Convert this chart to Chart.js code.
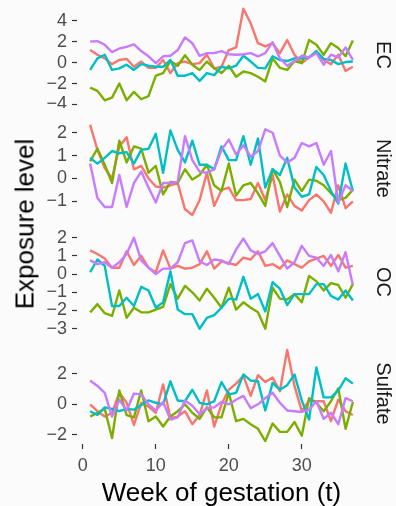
<!DOCTYPE html>
<html>
<head>
<meta charset="utf-8">
<script src="https://cdn.jsdelivr.net/npm/chart.js@4"></script>
<style>
  html, body { margin: 0; padding: 0; background: #fbfbfb; }
  #wrap { position: relative; width: 396px; height: 506px; overflow: hidden; font-family: "Liberation Sans", Arial, sans-serif; }
  #wrap canvas { position: absolute; left: 0; }
  #ytitle { position: absolute; left: 25px; top: 224px; transform: translate(-50%, -50%) rotate(-90deg); font-size: 26px; color: #000; white-space: nowrap; }
</style>
</head>
<body>
<div id="wrap">
  <canvas id="p1" width="396" height="106" style="top:2px"></canvas>
  <canvas id="p2" width="396" height="105" style="top:116px"></canvas>
  <canvas id="p3" width="396" height="106" style="top:229px"></canvas>
  <canvas id="p4" width="396" height="166" style="top:340px"></canvas>
  <div id="ytitle">Exposure level</div>
</div>
<script>
// weeks of gestation
const weeks = [1,2,3,4,5,6,7,8,9,10,11,12,13,14,15,16,17,18,19,20,21,22,23,24,25,26,27,28,29,30,31,32,33,34,35,36,37];

const colors = ['#F8766D', '#7CAE00', '#00BFC4', '#C77CFF'];

// EC
const ecRed = [1.2,0.75,0.4,-0.15,0.25,0.35,-0.4,0.1,-0.5,-0.5,0.25,-1.0,-0.05,0.1,-0.15,-0.05,0.75,-0.55,-0.4,1.2,1.45,5.15,3.75,1.85,1.55,1.85,0.9,2.15,0.75,-0.05,0.5,1.05,0.25,-0.15,0.75,-0.8,-0.4];
const ecGreen = [-2.4,-2.7,-3.6,-3.35,-2.0,-3.6,-2.8,-3.5,-3.2,-1.25,-1.0,0.15,-0.3,0.7,-0.2,-0.7,0.1,-0.55,-1.0,-0.3,-1.35,-0.85,-1.0,-1.35,-1.8,0.4,-0.5,-0.7,0.15,-0.05,2.15,1.7,0.75,1.85,1.4,0.6,2.1];
const ecCyan = [-0.7,0.4,0.75,-0.7,-0.55,-0.2,-0.7,-0.15,-0.3,-0.4,-0.4,0.25,-1.25,-1.25,-1.0,-1.75,-1.0,-1.2,-0.4,-0.55,-0.3,0.65,0.1,-0.5,-0.55,0.6,0.25,0.15,0.4,0.4,0.5,1.1,0.35,0.25,-0.15,0.05,0.1];
const ecPurple = [2.0,2.05,1.7,1.0,1.35,1.5,1.75,1.1,0.6,-0.05,0.6,0.65,1.2,2.4,1.85,0.65,0.9,0.9,1.1,0.8,0.75,0.8,0.9,0.6,0.9,1.95,0.4,-0.3,0.15,0.65,0.5,0.9,-0.2,0.75,0.5,1.45,0.25];

// Nitrate
const niRed = [2.35,1.25,0.45,0.0,1.4,1.8,0.4,0.55,0.0,-0.35,-0.4,-0.3,-0.2,-1.35,-1.6,-0.95,0.25,-1.2,-0.5,-0.4,-0.95,-0.95,-0.9,-0.2,-0.95,0.15,-1.45,-0.7,-1.2,-1.4,-0.95,-0.7,-1.0,-1.5,-0.3,-1.3,-1.0];
const niGreen = [0.75,1.3,0.6,-0.2,1.65,0.7,1.4,1.3,0.25,0.55,-0.7,-0.15,-0.2,0.4,-0.05,0.15,0.6,-0.3,-0.55,0.65,-0.75,-0.3,-0.2,-0.65,-1.2,0.4,-0.15,-1.25,-0.05,-0.55,-0.05,-0.1,-0.3,-0.65,-0.95,-0.85,-0.5];
const niCyan = [0.9,0.65,0.9,1.2,1.1,1.15,0.65,1.25,1.3,1.95,0.25,2.1,1.25,0.7,1.65,0.6,0.6,0.4,1.4,0.8,0.8,1.85,0.6,1.75,-0.4,0.4,0.15,0.9,-0.4,-0.8,-0.7,0.5,0.15,-0.55,-1.1,0.65,-0.55];
const niPurple = [0.65,-0.85,-1.25,-1.25,0.15,-1.25,-0.2,0.3,-0.4,-1.05,-0.2,-0.2,-0.15,1.85,0.8,0.3,0.25,0.4,1.25,1.7,1.05,1.45,0.95,1.2,2.15,2.0,1.0,0.7,0.9,1.55,1.4,1.55,0.6,1.2,-1.05,-0.3,-0.55];

// OC
const ocRed = [1.3,1.1,0.85,0.35,0.35,1.25,0.5,1.0,0.35,0.1,1.3,0.3,0.45,0.3,0.35,0.55,1.25,0.3,0.7,0.6,0.5,0.9,0.8,1.25,0.45,0.55,0.3,0.75,0.55,0.35,0.7,0.85,1.0,0.45,1.05,0.35,0.45];
const ocGreen = [-2.1,-1.65,-2.15,-2.3,-0.9,-2.4,-1.85,-2.1,-2.1,-1.95,-1.8,-0.55,-1.35,-0.65,-1.0,-1.45,-0.8,-1.3,-1.85,-0.75,-1.95,-1.55,-1.85,-2.1,-3.0,-0.75,-1.35,-1.4,-1.1,-1.55,-0.1,-0.4,-0.9,-0.5,-0.6,-1.3,-0.55];
const ocCyan = [0.1,0.8,0.45,-1.75,-1.75,-1.3,-1.75,-0.7,-0.9,-1.85,-1.55,0.15,-1.95,-2.2,-2.2,-3.0,-2.4,-2.25,-1.85,-1.35,-1.4,-0.15,-1.35,-1.1,-2.05,-0.45,-0.8,-1.7,-1.1,-1.1,-1.1,-0.55,-0.55,-1.2,-1.4,-0.9,-1.45];
const ocPurple = [0.75,0.55,0.65,0.35,0.65,1.1,2.0,0.75,0.35,0.0,0.3,0.3,0.65,1.7,1.85,0.7,0.5,0.8,0.75,0.55,1.35,1.95,1.3,1.1,1.25,1.7,1.0,0.3,0.65,1.55,1.0,0.9,0.45,1.05,0.15,1.2,-0.6];

// Sulfate
const suRed = [0.0,-0.45,-0.8,-0.55,0.75,0.1,-1.35,0.1,-0.15,-0.55,1.3,-0.9,-0.8,-0.45,-1.3,-0.7,0.9,-1.45,0.0,0.95,1.35,1.85,0.55,1.9,1.45,1.75,0.85,3.55,1.2,-0.45,0.25,0.2,0.2,-1.1,0.3,-0.45,-0.7];
const suGreen = [-0.8,-0.55,-0.3,-2.2,0.9,-0.7,-0.85,0.9,-1.1,-0.8,-1.45,-0.8,-0.45,0.0,-0.55,-0.95,-0.2,-0.85,-0.85,0.75,-1.1,-0.95,-1.3,-1.6,-2.4,-1.25,-1.8,-1.8,-1.15,-2.05,0.4,0.1,-0.45,0.2,1.05,-1.6,0.15];
const suCyan = [-0.45,-0.7,-0.2,-0.3,-0.45,-0.3,-0.35,-0.05,0.25,0.1,0.0,1.5,0.25,0.2,0.95,0.1,0.0,0.2,1.45,0.65,0.75,1.95,1.55,1.5,-0.4,1.4,0.95,1.25,1.95,0.25,-1.0,2.4,0.45,0.45,0.9,1.7,1.35];
const suPurple = [1.55,1.2,0.75,-0.8,0.3,-0.4,0.7,0.65,0.0,-0.4,0.15,-1.0,-0.85,0.25,-0.1,-0.65,-0.25,-0.2,0.15,0.0,0.3,0.55,-0.25,0.0,0.4,0.75,0.1,-0.4,-0.45,-0.5,-0.35,0.2,-0.95,-0.55,-1.3,0.4,0.2];

const panelLabels = ['EC', 'Nitrate', 'OC', 'Sulfate'];
const panelSeries = [
  [ecRed, ecGreen, ecCyan, ecPurple],
  [niRed, niGreen, niCyan, niPurple],
  [ocRed, ocGreen, ocCyan, ocPurple],
  [suRed, suGreen, suCyan, suPurple]
];
const yTicks = [[-4,-2,0,2,4], [-1,0,1,2], [-3,-2,-1,0,1,2], [-2,0,2]];
const yMin = [-4.05, -1.73, -3.18, -2.59];
const yMax = [5.5, 2.6, 2.31, 4.0];
const xTicks = [0, 10, 20, 30];

const tickFont = { family: 'Liberation Sans', size: 18 };

function makePanel(i) {
  const last = i === 3;
  const ctx = document.getElementById('p' + (i + 1)).getContext('2d');
  const datasets = panelSeries[i].map((vals, k) => ({
    data: vals.map((v, j) => ({ x: weeks[j], y: v })),
    borderColor: colors[k],
    borderWidth: 2.4,
    borderJoinStyle: 'round',
    pointRadius: 0,
    tension: 0,
    fill: false,
    order: 3 - k
  }));
  return new Chart(ctx, {
    type: 'line',
    data: { datasets: datasets },
    options: {
      responsive: false,
      animation: false,
      events: [],
      layout: { padding: { left: 0, right: 0, top: 3, bottom: last ? 0 : 3 } },
      plugins: {
        legend: { display: false },
        tooltip: { enabled: false },
        title: {
          display: true,
          text: panelLabels[i],
          position: 'right',
          fullSize: false,
          color: '#1a1a1a',
          font: { family: 'Liberation Sans', size: 20, weight: 'normal' },
          padding: { top: 1, bottom: 5 }
        }
      },
      scales: {
        x: {
          type: 'linear',
          min: -0.8,
          max: 38.8,
          display: last,
          afterBuildTicks: s => { s.ticks = xTicks.map(v => ({ value: v })); },
          afterFit: s => {
            s.paddingLeft = 0;
            s.paddingRight = 0;
            if (last) s.height = 62;
          },
          grid: { drawOnChartArea: false, tickLength: 5, color: '#333333', tickWidth: 1.2 },
          border: { display: false },
          ticks: { color: '#4d4d4d', font: tickFont, padding: 6, maxRotation: 0, autoSkip: false },
          title: {
            display: true,
            text: 'Week of gestation (t)',
            color: '#000',
            font: { family: 'Liberation Sans', size: 26 },
            padding: { top: 0, bottom: -3 }
          }
        },
        y: {
          min: yMin[i],
          max: yMax[i],
          afterBuildTicks: s => { s.ticks = yTicks[i].map(v => ({ value: v })); },
          afterFit: s => {
            s.width = 77;
            s.paddingTop = 0;
            s.paddingBottom = 0;
          },
          grid: { drawOnChartArea: false, tickLength: 5, color: '#333333', tickWidth: 1.2 },
          border: { display: false },
          ticks: {
            color: '#4d4d4d',
            font: tickFont,
            padding: 5,
            autoSkip: false,
            callback: v => String(v).replace('-', '\u2212')
          }
        }
      }
    }
  });
}

for (let i = 0; i < 4; i++) makePanel(i);
</script>
</body>
</html>
